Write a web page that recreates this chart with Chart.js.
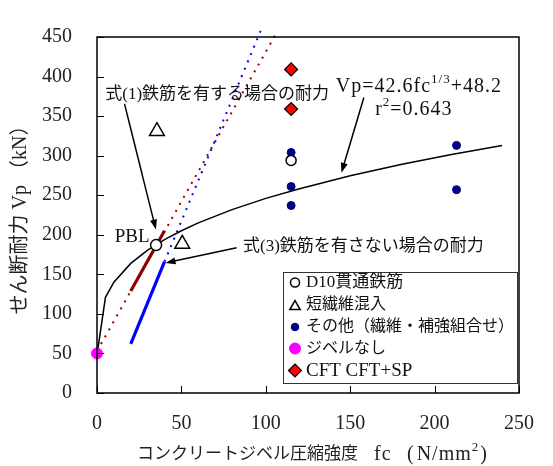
<!DOCTYPE html>
<html><head><meta charset="utf-8">
<script src="https://cdn.jsdelivr.net/npm/chart.js@4/dist/chart.umd.min.js"></script>
<style>html,body{margin:0;padding:0;background:#fff;}#wrap{width:553px;height:466px;}</style>
</head><body><div id="wrap"><canvas id="c" width="553" height="466"></canvas></div>
<script>
// ---- data ----
const xTickValues = [0, 50, 100, 150, 200, 250];
const yTickValues = [0, 50, 100, 150, 200, 250, 300, 350, 400, 450];

const d10Fc = [115];              const d10Vp = [294];
const pblFc = [35];               const pblVp = [187];
const fiberFc = [35.5, 50.5];     const fiberVp = [331, 188.5];
const otherFc = [115, 115, 115, 213, 213];
const otherVp = [304, 261, 237, 313, 257];
const noDowelFc = [0];            const noDowelVp = [50];
const cftFc = [115, 115];         const cftVp = [409, 359];

const fitFc = [0, 5, 10, 20, 30, 40, 50, 60, 80, 100, 120, 150, 180, 210, 240];
const fitVp = [48.2, 121.0, 140.0, 163.8, 180.6, 193.9, 205.1, 215.0, 231.8, 246.0, 258.3, 274.5, 288.7, 301.4, 312.9];

const eq1SolidFc = [20, 40];      const eq1SolidVp = [129, 205];
const eq1DotFc = [0, 106];        const eq1DotVp = [53, 454];
const eq3SolidFc = [20, 40];      const eq3SolidVp = [62, 166];
const eq3DotFc = [40, 97];        const eq3DotVp = [166, 458];

const legendLabels = ['D10貫通鉄筋', '短繊維混入', 'その他（繊維・補強組合せ）', 'ジベルなし', 'CFT CFT+SP'];
const xTitleParts = ['コンクリートジベル圧縮強度', 'fc', '(', 'N/mm', '2', ')'];
const yTitle = 'せん断耐力 Vp （kN）';

// ---- helpers ----
const pts = (xs, ys) => xs.map((v, i) => ({x: v, y: ys[i]}));
const SERIF = "'Liberation Serif', 'Noto Sans CJK JP', serif";

function arrow(ctx, x1, y1, x2, y2) {
  const ang = Math.atan2(y2 - y1, x2 - x1), L = 10, W = 3.5;
  ctx.beginPath(); ctx.moveTo(x1, y1);
  ctx.lineTo(x2 - (L - 1) * Math.cos(ang), y2 - (L - 1) * Math.sin(ang)); ctx.stroke();
  ctx.beginPath(); ctx.moveTo(x2, y2);
  ctx.lineTo(x2 - L * Math.cos(ang) + W * Math.sin(ang), y2 - L * Math.sin(ang) - W * Math.cos(ang));
  ctx.lineTo(x2 - L * Math.cos(ang) - W * Math.sin(ang), y2 - L * Math.sin(ang) + W * Math.cos(ang));
  ctx.closePath(); ctx.fill();
}

const decor = {
  id: 'decor',
  afterDatasetsDraw(chart) {
    const {ctx, chartArea: a, scales: {x, y}} = chart;
    const px = v => x.getPixelForValue(v), py = v => y.getPixelForValue(v);
    ctx.save();
    // frame
    ctx.strokeStyle = '#000'; ctx.lineWidth = 1.5;
    ctx.strokeRect(a.left, a.top, a.right - a.left, a.bottom - a.top);
    // inward tick marks
    ctx.lineWidth = 1;
    xTickValues.forEach(v => { const X = Math.round(px(v)) + 0.5; ctx.beginPath(); ctx.moveTo(X, a.bottom); ctx.lineTo(X, a.bottom - 7); ctx.stroke(); });
    yTickValues.forEach(v => { const Y = Math.round(py(v)) + 0.5; ctx.beginPath(); ctx.moveTo(a.left, Y); ctx.lineTo(a.left + 7, Y); ctx.stroke(); });

    // x axis title (mixed sizes, as in the reference)
    ctx.fillStyle = '#222'; ctx.textBaseline = 'middle'; ctx.textAlign = 'left';
    const ty = 455;
    ctx.font = '17px ' + SERIF; ctx.fillText(xTitleParts[0], 137, ty);
    ctx.letterSpacing = '1px';
    ctx.font = '20px ' + SERIF; ctx.fillText(xTitleParts[1], 374, ty);
    let tx = 407;
    ctx.fillText(xTitleParts[2], tx, ty); tx += ctx.measureText(xTitleParts[2]).width + 2;
    ctx.fillText(xTitleParts[3], tx, ty); tx += ctx.measureText(xTitleParts[3]).width;
    ctx.font = '13px ' + SERIF; ctx.fillText(xTitleParts[4], tx, ty - 7); tx += ctx.measureText(xTitleParts[4]).width + 1;
    ctx.font = '20px ' + SERIF; ctx.fillText(xTitleParts[5], tx, ty);
    ctx.letterSpacing = '0px';

    // annotations
    ctx.fillStyle = '#111'; ctx.strokeStyle = '#000'; ctx.lineWidth = 1.5;
    ctx.textBaseline = 'middle'; ctx.textAlign = 'left';
    ctx.font = '17px ' + SERIF;
    ctx.fillText('式(1)鉄筋を有する場合の耐力', px(4.9), py(377.6));
    ctx.fillText('式(3)鉄筋を有さない場合の耐力', px(86.5), py(184.6));
    ctx.fillStyle = '#000';
    arrow(ctx, px(16.3), py(365.5), px(34.9), py(206.6));
    arrow(ctx, px(82.7), py(183.7), px(40.6), py(164.4));
    arrow(ctx, px(158.1), py(373.6), px(144.8), py(278.3));
    ctx.fillStyle = '#111';
    ctx.font = '19px ' + SERIF;
    ctx.textAlign = 'right';
    ctx.fillText('PBL', px(31.1), py(196.6));
    ctx.textAlign = 'left';
    // equation with superscript
    ctx.letterSpacing = '1px';
    let ex = px(141.5), ey = py(387.6);
    const big = '20px ' + SERIF, small = '13px ' + SERIF;
    ctx.font = big; ctx.fillText('Vp=42.6fc', ex, ey); ex += ctx.measureText('Vp=42.6fc').width;
    ctx.font = small; ctx.fillText('1/3', ex, ey - 7); ex += ctx.measureText('1/3').width;
    ctx.font = big; ctx.fillText('+48.2', ex, ey);
    let rx = px(164.8), ry = py(358);
    ctx.fillText('r', rx, ry); rx += ctx.measureText('r').width;
    ctx.font = small; ctx.fillText('2', rx, ry - 7); rx += ctx.measureText('2').width;
    ctx.font = big; ctx.fillText('=0.643', rx, ry);
    ctx.letterSpacing = '0px';

    // legend
    const L = {l: 283, t: 272, r: 517, b: 383};
    ctx.fillStyle = '#fff'; ctx.fillRect(L.l, L.t, L.r - L.l, L.b - L.t);
    ctx.strokeStyle = '#333'; ctx.lineWidth = 1;
    ctx.strokeRect(L.l + 0.5, L.t + 0.5, L.r - L.l, L.b - L.t);
    const rows = [282.5, 305, 327, 348.5, 370.5];
    const styles = [
      {ps: 'circle', r: 4.5, bg: '#fff', bc: '#000', bw: 1.5},
      {ps: 'triangle', r: 6, bg: '#fff', bc: '#000', bw: 1.5},
      {ps: 'circle', r: 3.8, bg: '#000080', bc: '#000080', bw: 1},
      {ps: 'circle', r: 5.5, bg: '#ff00ff', bc: '#ff00ff', bw: 1},
      {ps: 'rectRot', r: 6.5, bg: '#ff0000', bc: '#000', bw: 1.2}
    ];
    ctx.textBaseline = 'middle'; ctx.textAlign = 'left';
    rows.forEach((yy, i) => {
      const s = styles[i];
      ctx.fillStyle = s.bg; ctx.strokeStyle = s.bc; ctx.lineWidth = s.bw;
      Chart.helpers.drawPoint(ctx, {pointStyle: s.ps, radius: s.r, borderWidth: s.bw, rotation: 0}, 295, yy + (i === 1 ? 1.5 : 0));
      ctx.fillStyle = '#111';
      ctx.font = (i === 4 ? '19px ' : (i === 0 ? '17px ' : '16px ')) + SERIF;
      ctx.fillText(legendLabels[i], 306, yy + (i === 4 ? 1 : 0));
    });
    ctx.restore();
  }
};

new Chart(document.getElementById('c'), {
  type: 'scatter',
  data: {
    datasets: [
      {label: legendLabels[4], data: pts(cftFc, cftVp), pointStyle: 'rectRot', pointRadius: 6.5, backgroundColor: '#ff0000', borderColor: '#000', borderWidth: 1.2, clip: false},
      {label: legendLabels[3], data: pts(noDowelFc, noDowelVp), pointRadius: 5.5, backgroundColor: '#ff00ff', borderColor: '#ff00ff', borderWidth: 1, clip: false},
      {label: legendLabels[0], data: pts(d10Fc, d10Vp), pointRadius: 5, backgroundColor: '#fff', borderColor: '#000', borderWidth: 1.5, clip: false},
      {label: 'PBL', data: pts(pblFc, pblVp), pointRadius: 5.5, backgroundColor: '#fff', borderColor: '#000', borderWidth: 1.5, clip: false},
      {label: legendLabels[1], data: pts(fiberFc, fiberVp), pointStyle: 'triangle', pointRadius: 8.5, backgroundColor: '#fff', borderColor: '#000', borderWidth: 1.5, clip: false},
      {label: legendLabels[2], data: pts(otherFc, otherVp), pointRadius: 4, backgroundColor: '#000080', borderColor: '#000080', borderWidth: 1, clip: false},
      {label: 'fit', data: pts(fitFc, fitVp), showLine: true, pointRadius: 0, borderColor: '#000', borderWidth: 1.5, fill: false, clip: false},
      {label: 'eq1', data: pts(eq1SolidFc, eq1SolidVp), showLine: true, pointRadius: 0, borderColor: '#8b0000', borderWidth: 3.2, clip: false},
      {label: 'eq3', data: pts(eq3SolidFc, eq3SolidVp), showLine: true, pointRadius: 0, borderColor: '#0000ff', borderWidth: 3.2, clip: false},
      {label: 'eq1dot', data: pts(eq1DotFc, eq1DotVp), showLine: true, pointRadius: 0, borderColor: '#990000', borderWidth: 2, borderDash: [2, 6], clip: false},
      {label: 'eq3dot', data: pts(eq3DotFc, eq3DotVp), showLine: true, pointRadius: 0, borderColor: '#0000ff', borderWidth: 2, borderDash: [2, 6], clip: false}
    ]
  },
  options: {
    responsive: false, animation: false, devicePixelRatio: 1,
    layout: {padding: {left: 0, right: 20, top: 20, bottom: 0}},
    plugins: {legend: {display: false}, tooltip: {enabled: false}},
    elements: {line: {tension: 0}},
    scales: {
      x: {
        type: 'linear', min: 0, max: 250,
        afterBuildTicks: s => { s.ticks = xTickValues.map(v => ({value: v})); },
        afterFit: s => { s.height = 73; },
        grid: {display: false, drawTicks: false},
        border: {display: false},
        ticks: {padding: 19, color: '#222', font: {family: SERIF, size: 20}, maxRotation: 0},
        title: {display: false}
      },
      y: {
        type: 'linear', min: 0, max: 450,
        afterBuildTicks: s => { s.ticks = yTickValues.map(v => ({value: v})); },
        afterFit: s => { s.width = 97; },
        grid: {display: false, drawTicks: false},
        border: {display: false},
        ticks: {padding: 25, color: '#222', font: {family: SERIF, size: 20}},
        title: {display: true, text: yTitle, color: '#222', font: {family: SERIF, size: 20}, padding: {top: 9, bottom: 0}}
      }
    }
  },
  plugins: [decor]
});
</script></body></html>
